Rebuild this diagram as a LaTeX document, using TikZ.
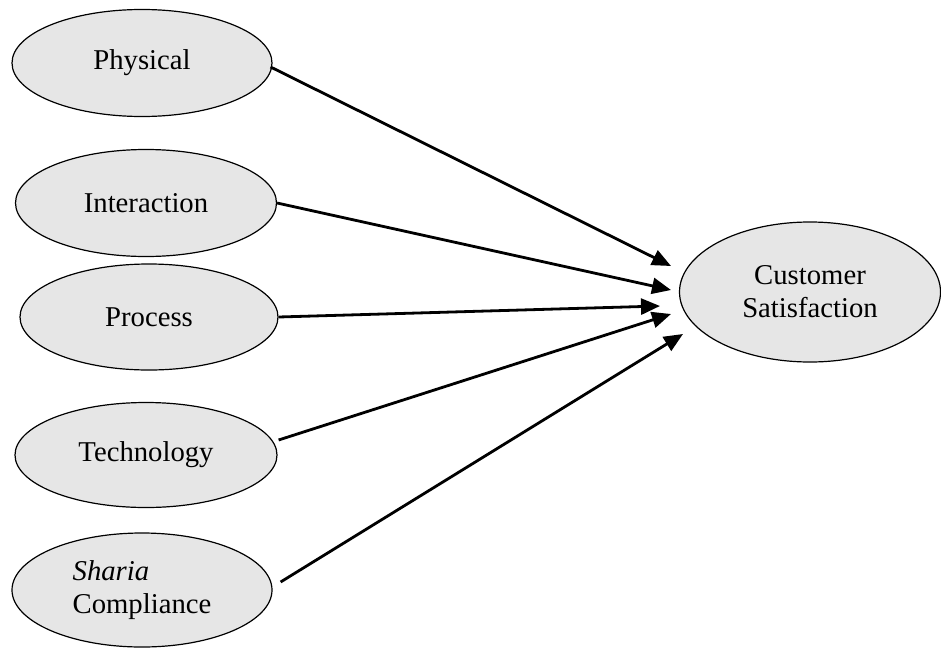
\documentclass[tikz,border=0pt]{standalone}
\usepackage{fontspec}
\setmainfont{Liberation Serif}
\usetikzlibrary{shapes.geometric,arrows.meta}
\definecolor{ellfill}{RGB}{230,230,230}
\tikzset{
  construct/.style={ellipse, draw=black, line width=1.2pt, fill=ellfill, inner sep=0pt,
    font=\fontsize{28.7}{33}\selectfont, align=center},
  arr/.style={line width=2.8pt, -{Triangle[length=19pt,width=16pt]}}
}
\begin{document}
\begin{tikzpicture}[x=1pt,y=-1pt]
\useasboundingbox (0,0) rectangle (941,653);
\node[construct, minimum width=260pt, minimum height=107pt] (phys) at (142,63) {Physical};
\node[construct, minimum width=261pt, minimum height=107pt] (inter) at (146,203) {Interaction};
\node[construct, minimum width=258pt, minimum height=106pt] (proc) at (149,317) {Process};
\node[construct, minimum width=262pt, minimum height=105pt] (tech) at (146,455) {Technology};
\node[construct, minimum width=260pt, minimum height=114pt, align=left] (shar) at (142,590) {\textit{Sharia}\\Compliance};
\node[construct, minimum width=261pt, minimum height=140pt] (cust) at (810,292) {Customer\\Satisfaction};
\coordinate (t1) at (671,266);
\coordinate (t2) at (671,290);
\coordinate (t3) at (660,306);
\coordinate (t4) at (671,314);
\coordinate (t5) at (683,334);
\draw[arr] ([shift={(-2,4)}]phys.east) -- (t1);
\draw[arr] (inter.east) -- (t2);
\draw[arr] (proc.east) -- (t3);
\draw[arr] ([shift={(1,-15)}]tech.east) -- (t4);
\draw[arr] ([shift={(8,-8)}]shar.east) -- (t5);
\end{tikzpicture}
\end{document}
